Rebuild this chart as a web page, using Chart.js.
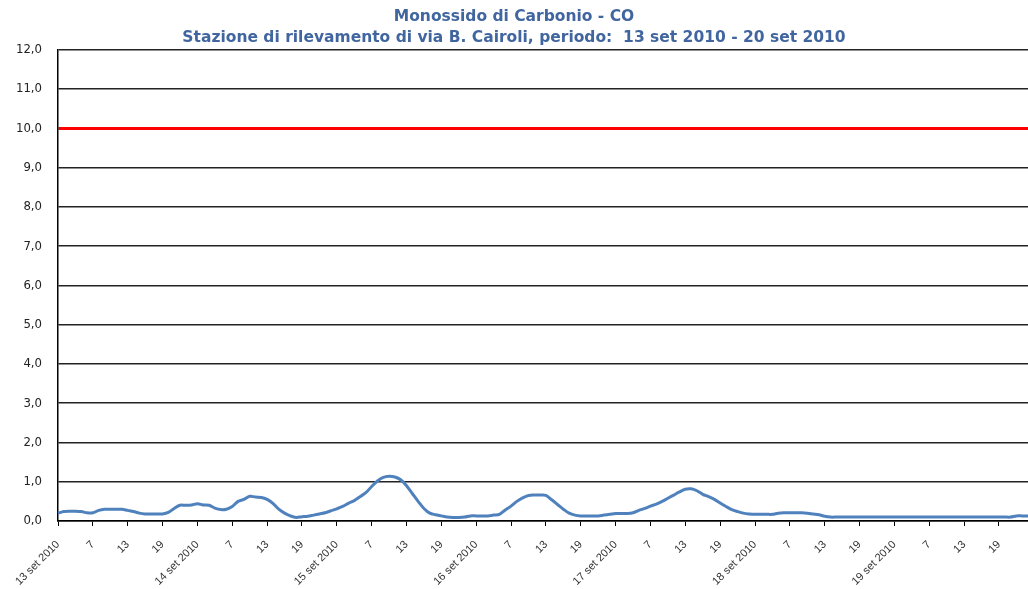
<!DOCTYPE html>
<html>
<head>
<meta charset="utf-8">
<script src="https://cdn.jsdelivr.net/npm/chart.js@4/dist/chart.umd.min.js"></script>
<style>
  html, body { margin: 0; padding: 0; background: #fff; }
  #wrap { width: 1028px; height: 589px; }
</style>
</head>
<body>
<div id="wrap"><canvas id="c" width="1028" height="589"></canvas></div>
<script>
// ---- data ----
const titleLines = [
  'Monossido di Carbonio - CO',
  'Stazione di rilevamento di via B. Cairoli, periodo:  13 set 2010 - 20 set 2010'
];
const dayLabels = ['13 set 2010', '14 set 2010', '15 set 2010', '16 set 2010', '17 set 2010', '18 set 2010', '19 set 2010'];
const hoursOfDay = ['1','2','3','4','5','6','7','8','9','10','11','12','13','14','15','16','17','18','19','20','21','22','23','24'];
const yTickValues = [0,1,2,3,4,5,6,7,8,9,10,11,12];
const limitValue = 10;

// hourly CO values (mg/m3), 13 set 2010 h1 .. 19 set 2010 h24
const coDay13 = [0.20,0.24,0.25,0.25,0.24,0.21,0.21,0.27,0.30,0.30,0.30,0.30,0.27,0.24,0.20,0.18,0.18,0.18,0.18,0.22,0.32,0.40,0.40,0.41];
const coDay14 = [0.44,0.41,0.40,0.33,0.29,0.30,0.37,0.50,0.55,0.63,0.61,0.60,0.55,0.45,0.30,0.20,0.13,0.09,0.11,0.12,0.15,0.18,0.21,0.26];
const coDay15 = [0.31,0.37,0.45,0.52,0.62,0.72,0.88,1.02,1.11,1.14,1.12,1.05,0.90,0.70,0.50,0.32,0.20,0.16,0.13,0.10,0.09,0.09,0.10,0.13];
const coDay16 = [0.13,0.13,0.13,0.15,0.17,0.28,0.38,0.50,0.59,0.65,0.66,0.66,0.65,0.54,0.42,0.30,0.20,0.15,0.13,0.13,0.13,0.13,0.15,0.17];
const coDay17 = [0.19,0.19,0.19,0.21,0.27,0.32,0.38,0.43,0.50,0.58,0.66,0.74,0.81,0.82,0.77,0.68,0.62,0.55,0.46,0.37,0.29,0.24,0.20,0.18];
const coDay18 = [0.17,0.17,0.17,0.17,0.20,0.21,0.21,0.21,0.21,0.20,0.18,0.16,0.12,0.10,0.10,0.10,0.10,0.10,0.10,0.10,0.10,0.10,0.10,0.10];
const coDay19 = [0.10,0.10,0.10,0.10,0.10,0.10,0.10,0.10,0.10,0.10,0.10,0.10,0.10,0.10,0.10,0.10,0.10,0.10,0.10,0.10,0.10,0.13,0.13,0.13];

// ---- build categories / series ----
const categories = [];
dayLabels.forEach(d => hoursOfDay.forEach(h => categories.push(h === '1' ? d : h)));
const coValues = [].concat(coDay13, coDay14, coDay15, coDay16, coDay17, coDay18, coDay19);

const condFont = "'DejaVu Sans Condensed', 'DejaVu Sans', sans-serif";

new Chart(document.getElementById('c'), {
  type: 'line',
  data: {
    labels: categories,
    datasets: [{
      data: coValues,
      borderColor: '#4F81BD',
      borderWidth: 3,
      pointRadius: 0,
      tension: 0.35,
      fill: false
    }]
  },
  options: {
    responsive: false,
    devicePixelRatio: 1,
    animation: false,
    layout: { padding: { top: 0, right: 0, bottom: 0, left: 0 } },
    plugins: {
      legend: { display: false },
      tooltip: { enabled: false },
      title: {
        display: true,
        text: titleLines,
        color: '#41669F',
        font: { family: "'DejaVu Sans', sans-serif", size: 15.5, weight: 'bold', lineHeight: 1.35 },
        padding: { top: 7, bottom: 1 }
      }
    },
    scales: {
      x: {
        type: 'category',
        offset: false,
        grid: {
          drawOnChartArea: false,
          drawTicks: true,
          tickLength: 5,
          lineWidth: 1,
          color: ctx => (ctx.index % 6 === 0 ? '#000' : 'rgba(0,0,0,0)')
        },
        border: { display: true, color: '#000', width: 1.5 },
        ticks: {
          autoSkip: false,
          maxRotation: 45,
          minRotation: 45,
          padding: 12,
          color: '#333',
          font: { family: "'Liberation Sans', Arial, sans-serif", size: 11 },
          callback: function (value, index) {
            return index % 6 === 0 ? this.getLabelForValue(value) : '';
          }
        },
        afterFit: s => { s.height = 68; s.paddingRight = 0; }
      },
      y: {
        min: 0,
        max: 12,
        afterBuildTicks: s => { s.ticks = yTickValues.map(v => ({ value: v })); },
        grid: {
          drawTicks: false,
          color: ctx => (ctx.tick && ctx.tick.value === limitValue ? '#FF0000' : '#222'),
          lineWidth: ctx => (ctx.tick && ctx.tick.value === limitValue ? 3 : 1.5)
        },
        border: { display: true, color: '#000', width: 1.5 },
        ticks: {
          padding: 16,
          color: '#222',
          font: { family: condFont, size: 13 },
          callback: v => Number(v).toFixed(1).replace('.', ',')
        },
        afterFit: s => { s.width = 58; }
      }
    }
  }
});
</script>
</body>
</html>
